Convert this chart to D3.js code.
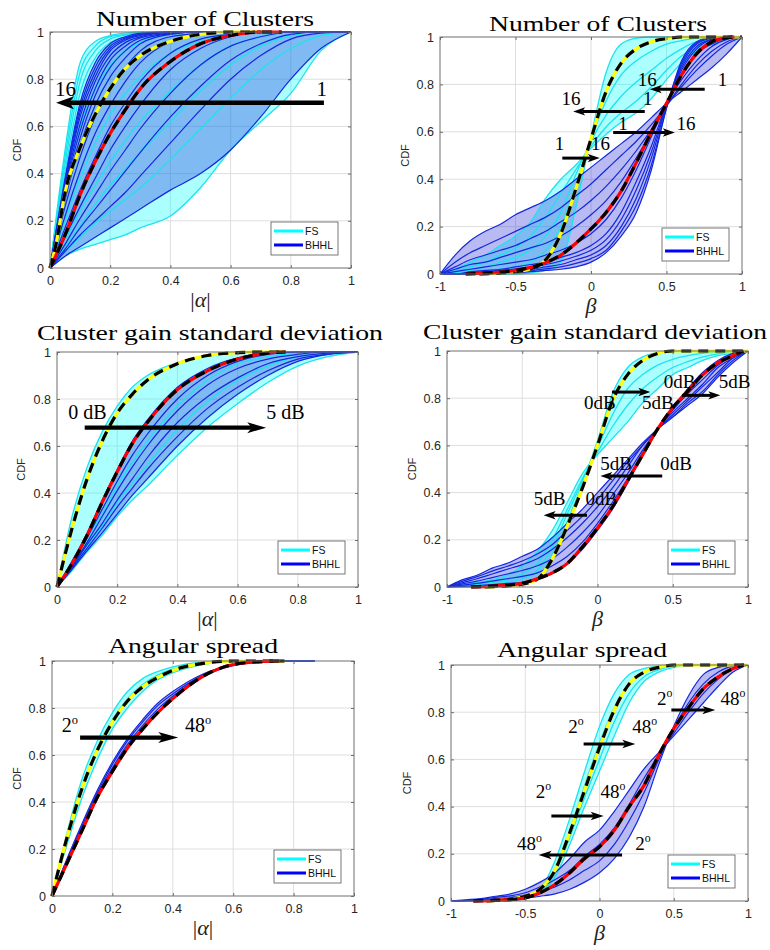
<!DOCTYPE html>
<html>
<head>
<meta charset="utf-8">
<script src="https://cdn.jsdelivr.net/npm/d3@7"></script>
<style>
  body { margin: 0; background: #fff; }
  svg { display: block; }
</style>
</head>
<body>
<svg id="fig" width="770" height="950"></svg>
<script>
// ---------------------------------------------------------------
// Axis ticks and titles
// ---------------------------------------------------------------
const alphaTicks = [0, 0.2, 0.4, 0.6, 0.8, 1];
const betaTicks = [-1, -0.5, 0, 0.5, 1];
const cdfTicks = [0, 0.2, 0.4, 0.6, 0.8, 1];
const titles = ["Number of Clusters", "Number of Clusters",
  "Cluster gain standard deviation", "Cluster gain standard deviation",
  "Angular spread", "Angular spread"];
const legendNames = ["FS", "BHHL"];

// shared β grid (−1 … 1, step 0.1)
const betaGrid = [-1, -0.9, -0.8, -0.7, -0.6, -0.5, -0.4, -0.3, -0.2, -0.1, 0,
  0.1, 0.2, 0.3, 0.4, 0.5, 0.6, 0.7, 0.8, 0.9, 1];

// ---------------------------------------------------------------
// Panel 1: |α|, number of clusters (rows: 16 clusters … 1 cluster)
// ---------------------------------------------------------------
const gridP1 = [0, 0.05, 0.1, 0.15, 0.2, 0.25, 0.3, 0.4, 0.5, 0.6, 0.7, 0.8, 0.9, 1];
const fsP1 = [
  [0, 0.50, 0.87, 0.96, 0.985, 0.995, 1, 1, 1, 1, 1, 1, 1, 1],
  [0, 0.47, 0.83, 0.94, 0.98, 0.99, 0.997, 1, 1, 1, 1, 1, 1, 1],
  [0, 0.44, 0.79, 0.92, 0.97, 0.987, 0.995, 1, 1, 1, 1, 1, 1, 1],
  [0, 0.41, 0.74, 0.89, 0.955, 0.98, 0.99, 0.998, 1, 1, 1, 1, 1, 1],
  [0, 0.33, 0.60, 0.76, 0.86, 0.92, 0.955, 0.99, 1, 1, 1, 1, 1, 1],
  [0, 0.20, 0.38, 0.53, 0.65, 0.74, 0.81, 0.91, 0.96, 0.99, 1, 1, 1, 1],
  [0, 0.12, 0.24, 0.35, 0.45, 0.54, 0.62, 0.75, 0.86, 0.94, 0.98, 1, 1, 1],
  [0, 0.09, 0.18, 0.27, 0.35, 0.42, 0.49, 0.62, 0.75, 0.86, 0.94, 0.985, 1, 1],
  [0, 0.07, 0.13, 0.19, 0.24, 0.29, 0.34, 0.46, 0.59, 0.72, 0.84, 0.93, 0.985, 1],
  [0, 0.05, 0.08, 0.10, 0.12, 0.14, 0.17, 0.22, 0.34, 0.50, 0.62, 0.74, 0.92, 1]
];
const bhP1 = [
  [0, 0.38, 0.70, 0.87, 0.95, 0.98, 0.995, 1, 1, 1, 1, 1, 1, 1],
  [0, 0.37, 0.68, 0.85, 0.94, 0.975, 0.99, 1, 1, 1, 1, 1, 1, 1],
  [0, 0.36, 0.66, 0.83, 0.93, 0.97, 0.99, 1, 1, 1, 1, 1, 1, 1],
  [0, 0.35, 0.64, 0.81, 0.92, 0.965, 0.985, 1, 1, 1, 1, 1, 1, 1],
  [0, 0.34, 0.61, 0.79, 0.90, 0.955, 0.98, 0.998, 1, 1, 1, 1, 1, 1],
  [0, 0.33, 0.58, 0.76, 0.88, 0.94, 0.975, 0.995, 1, 1, 1, 1, 1, 1],
  [0, 0.31, 0.55, 0.73, 0.85, 0.92, 0.965, 0.993, 1, 1, 1, 1, 1, 1],
  [0, 0.29, 0.52, 0.69, 0.81, 0.89, 0.95, 0.99, 1, 1, 1, 1, 1, 1],
  [0, 0.26, 0.47, 0.64, 0.76, 0.85, 0.92, 0.98, 0.995, 1, 1, 1, 1, 1],
  [0, 0.22, 0.41, 0.57, 0.69, 0.79, 0.87, 0.96, 0.99, 1, 1, 1, 1, 1],
  [0, 0.17, 0.33, 0.47, 0.60, 0.70, 0.79, 0.91, 0.97, 0.99, 1, 1, 1, 1],
  [0, 0.13, 0.26, 0.38, 0.50, 0.60, 0.69, 0.84, 0.93, 0.98, 1, 1, 1, 1],
  [0, 0.10, 0.21, 0.31, 0.41, 0.50, 0.59, 0.74, 0.86, 0.94, 0.98, 1, 1, 1],
  [0, 0.08, 0.17, 0.25, 0.33, 0.41, 0.49, 0.64, 0.77, 0.88, 0.95, 0.99, 1, 1],
  [0, 0.07, 0.14, 0.20, 0.26, 0.32, 0.39, 0.53, 0.67, 0.80, 0.90, 0.97, 0.995, 1],
  [0, 0.05, 0.09, 0.13, 0.17, 0.21, 0.25, 0.33, 0.40, 0.50, 0.64, 0.80, 0.93, 1]
];
const yellowP1 = [[0, 0], [0.02, 0.1], [0.05, 0.32], [0.1, 0.51], [0.15, 0.65], [0.2, 0.76],
  [0.25, 0.845], [0.3, 0.9], [0.4, 0.96], [0.5, 0.99], [0.6, 1], [0.7, 1]];
const redP1 = [[0, 0], [0.05, 0.14], [0.1, 0.31], [0.15, 0.45], [0.2, 0.57], [0.25, 0.67],
  [0.3, 0.76], [0.4, 0.875], [0.5, 0.95], [0.6, 0.985], [0.7, 1], [0.77, 1]];
const arrowsP1 = [[0.91, 0.7, 0.02, 0.7]];
const labelsP1 = [["16", 0.017, 0.73], ["1", 0.885, 0.73]];

// ---------------------------------------------------------------
// Panel 2: β, number of clusters
// ---------------------------------------------------------------
const fsP2 = [
  [0, 0, 0, 0, 0, 0, 0.005, 0.015, 0.05, 0.28, 0.58, 0.85, 0.97, 0.995, 1, 1, 1, 1, 1, 1, 1],
  [0, 0, 0.005, 0.01, 0.02, 0.03, 0.05, 0.10, 0.20, 0.38, 0.57, 0.73, 0.84, 0.90, 0.94, 0.97, 0.985, 0.995, 1, 1, 1],
  [0, 0.005, 0.015, 0.03, 0.05, 0.07, 0.10, 0.16, 0.26, 0.42, 0.56, 0.67, 0.75, 0.81, 0.86, 0.91, 0.95, 0.98, 0.99, 1, 1],
  [0, 0.01, 0.03, 0.05, 0.08, 0.11, 0.16, 0.24, 0.34, 0.44, 0.54, 0.62, 0.68, 0.73, 0.79, 0.86, 0.92, 0.96, 0.985, 0.995, 1],
  [0, 0.02, 0.05, 0.08, 0.12, 0.16, 0.22, 0.32, 0.40, 0.46, 0.53, 0.59, 0.64, 0.68, 0.74, 0.82, 0.89, 0.94, 0.97, 0.99, 1]
];
const bhP2 = [
  [0, 0, 0, 0, 0.002, 0.005, 0.01, 0.015, 0.02, 0.03, 0.05, 0.09, 0.16, 0.26, 0.44, 0.70, 0.90, 0.98, 1, 1, 1],
  [0, 0, 0, 0.003, 0.006, 0.01, 0.015, 0.022, 0.03, 0.045, 0.065, 0.10, 0.18, 0.29, 0.46, 0.70, 0.89, 0.975, 0.998, 1, 1],
  [0, 0, 0, 0.005, 0.01, 0.015, 0.02, 0.03, 0.04, 0.06, 0.08, 0.12, 0.20, 0.32, 0.49, 0.71, 0.88, 0.97, 0.995, 1, 1],
  [0, 0, 0.005, 0.01, 0.015, 0.022, 0.03, 0.04, 0.055, 0.075, 0.10, 0.145, 0.23, 0.355, 0.515, 0.715, 0.87, 0.96, 0.99, 1, 1],
  [0, 0, 0.01, 0.015, 0.02, 0.03, 0.04, 0.05, 0.07, 0.09, 0.12, 0.17, 0.26, 0.39, 0.54, 0.72, 0.86, 0.95, 0.99, 1, 1],
  [0, 0.01, 0.02, 0.03, 0.04, 0.05, 0.06, 0.08, 0.10, 0.13, 0.17, 0.23, 0.32, 0.44, 0.58, 0.72, 0.84, 0.93, 0.97, 0.995, 1],
  [0, 0.02, 0.04, 0.05, 0.07, 0.09, 0.11, 0.13, 0.16, 0.20, 0.25, 0.31, 0.39, 0.49, 0.60, 0.72, 0.82, 0.90, 0.96, 0.99, 1],
  [0, 0.03, 0.06, 0.08, 0.10, 0.12, 0.15, 0.18, 0.22, 0.26, 0.31, 0.37, 0.44, 0.52, 0.61, 0.71, 0.80, 0.88, 0.94, 0.98, 1],
  [0, 0.05, 0.09, 0.12, 0.15, 0.18, 0.21, 0.24, 0.28, 0.33, 0.38, 0.44, 0.50, 0.56, 0.63, 0.71, 0.79, 0.86, 0.92, 0.97, 1],
  [0, 0.08, 0.14, 0.18, 0.21, 0.25, 0.28, 0.31, 0.35, 0.40, 0.45, 0.50, 0.55, 0.60, 0.66, 0.72, 0.77, 0.82, 0.87, 0.93, 1]
];
const yellowP2 = [[-0.74, 0], [-0.6, 0.004], [-0.5, 0.01], [-0.4, 0.022], [-0.3, 0.06], [-0.2, 0.17],
  [-0.1, 0.36], [0, 0.57], [0.1, 0.77], [0.2, 0.89], [0.3, 0.95], [0.4, 0.98], [0.5, 0.993], [0.6, 1], [1, 1]];
const redP2 = [[-0.83, 0], [-0.7, 0.004], [-0.6, 0.008], [-0.5, 0.015], [-0.4, 0.028], [-0.3, 0.048],
  [-0.2, 0.08], [-0.1, 0.13], [0, 0.19], [0.1, 0.26], [0.2, 0.35], [0.3, 0.47], [0.4, 0.6], [0.5, 0.72],
  [0.6, 0.84], [0.7, 0.93], [0.8, 0.98], [0.9, 0.997], [0.95, 1]];
const arrowsP2 = [[0.753, 0.78, 0.389, 0.78], [0.356, 0.686, -0.118, 0.686],
  [0.147, 0.597, 0.555, 0.597], [-0.19, 0.489, 0.058, 0.489]];
const labelsP2 = [["16", 0.31, 0.795], ["1", 0.84, 0.795], ["16", -0.195, 0.714], ["1", 0.345, 0.714],
  ["1", 0.18, 0.608], ["16", 0.566, 0.608], ["1", -0.24, 0.524], ["16", 0.0, 0.524]];

// ---------------------------------------------------------------
// Panel 3: |α|, cluster gain standard deviation (rows: 0 dB … 5 dB)
// ---------------------------------------------------------------
const gridP3 = [0, 0.05, 0.1, 0.15, 0.2, 0.25, 0.3, 0.4, 0.5, 0.6, 0.7, 0.8, 0.9, 1];
const fsP3 = [
  [0, 0.30, 0.51, 0.66, 0.77, 0.85, 0.90, 0.955, 0.985, 0.997, 1, 1, 1, 1],
  [0, 0.10, 0.20, 0.31, 0.43, 0.53, 0.62, 0.77, 0.88, 0.95, 0.98, 0.995, 1, 1],
  [0, 0.085, 0.17, 0.26, 0.36, 0.44, 0.52, 0.67, 0.79, 0.88, 0.94, 0.98, 0.995, 1],
  [0, 0.07, 0.15, 0.22, 0.30, 0.37, 0.43, 0.56, 0.68, 0.78, 0.87, 0.94, 0.98, 1]
];
const bhP3 = [
  [0, 0.11, 0.23, 0.37, 0.50, 0.62, 0.71, 0.85, 0.93, 0.975, 0.995, 1, 1, 1],
  [0, 0.10, 0.21, 0.33, 0.45, 0.56, 0.65, 0.80, 0.90, 0.96, 0.99, 1, 1, 1],
  [0, 0.09, 0.19, 0.30, 0.41, 0.51, 0.60, 0.75, 0.86, 0.93, 0.97, 0.99, 1, 1],
  [0, 0.085, 0.18, 0.27, 0.37, 0.46, 0.55, 0.70, 0.81, 0.89, 0.95, 0.98, 0.995, 1],
  [0, 0.08, 0.165, 0.25, 0.34, 0.42, 0.50, 0.64, 0.76, 0.85, 0.92, 0.97, 0.99, 1],
  [0, 0.075, 0.155, 0.23, 0.31, 0.39, 0.46, 0.60, 0.72, 0.82, 0.90, 0.96, 0.99, 1]
];
const yellowP3 = [[0, 0], [0.05, 0.25], [0.1, 0.46], [0.15, 0.62], [0.2, 0.74], [0.25, 0.82],
  [0.3, 0.88], [0.4, 0.95], [0.5, 0.985], [0.6, 0.997], [0.7, 1], [0.76, 1]];
const redP3 = [[0, 0], [0.05, 0.1], [0.1, 0.22], [0.15, 0.36], [0.2, 0.49], [0.25, 0.61],
  [0.3, 0.7], [0.4, 0.84], [0.5, 0.92], [0.6, 0.97], [0.7, 0.995], [0.76, 1]];
const arrowsP3 = [[0.092, 0.678, 0.695, 0.678]];
const labelsP3 = [["0 dB", 0.037, 0.716], ["5 dB", 0.695, 0.716]];

// ---------------------------------------------------------------
// Panel 4: β, cluster gain standard deviation
// ---------------------------------------------------------------
const fsP4 = [
  [0, 0, 0, 0.002, 0.005, 0.012, 0.035, 0.14, 0.28, 0.44, 0.62, 0.82, 0.93, 0.975, 0.993, 1, 1, 1, 1, 1, 1],
  [0, 0.004, 0.008, 0.013, 0.02, 0.035, 0.07, 0.17, 0.31, 0.45, 0.59, 0.73, 0.84, 0.90, 0.94, 0.965, 0.98, 0.99, 0.996, 1, 1],
  [0, 0.007, 0.013, 0.02, 0.03, 0.055, 0.10, 0.20, 0.33, 0.46, 0.57, 0.68, 0.77, 0.84, 0.89, 0.93, 0.955, 0.975, 0.988, 0.996, 1],
  [0, 0.01, 0.02, 0.03, 0.05, 0.09, 0.15, 0.24, 0.36, 0.48, 0.56, 0.63, 0.70, 0.78, 0.84, 0.90, 0.93, 0.96, 0.98, 0.99, 1]
];
const bhP4 = [
  [0, 0.003, 0.006, 0.01, 0.015, 0.02, 0.035, 0.06, 0.10, 0.16, 0.24, 0.33, 0.44, 0.56, 0.67, 0.76, 0.84, 0.91, 0.96, 0.99, 1],
  [0, 0.008, 0.015, 0.025, 0.035, 0.045, 0.06, 0.09, 0.13, 0.19, 0.27, 0.36, 0.46, 0.57, 0.67, 0.75, 0.82, 0.88, 0.94, 0.98, 1],
  [0, 0.013, 0.025, 0.04, 0.055, 0.07, 0.09, 0.12, 0.17, 0.23, 0.30, 0.39, 0.48, 0.58, 0.67, 0.74, 0.80, 0.86, 0.93, 0.97, 1],
  [0, 0.018, 0.035, 0.055, 0.075, 0.095, 0.12, 0.16, 0.21, 0.27, 0.34, 0.42, 0.51, 0.60, 0.67, 0.73, 0.79, 0.85, 0.91, 0.97, 1],
  [0, 0.024, 0.044, 0.067, 0.088, 0.11, 0.14, 0.18, 0.24, 0.30, 0.37, 0.45, 0.53, 0.60, 0.67, 0.72, 0.78, 0.83, 0.90, 0.96, 1],
  [0, 0.03, 0.05, 0.08, 0.10, 0.13, 0.16, 0.21, 0.27, 0.33, 0.40, 0.47, 0.54, 0.61, 0.67, 0.72, 0.77, 0.82, 0.89, 0.95, 1]
];
const yellowP4 = [[-0.75, 0], [-0.6, 0.005], [-0.5, 0.012], [-0.4, 0.033], [-0.3, 0.12], [-0.2, 0.26],
  [-0.1, 0.42], [0, 0.6], [0.1, 0.79], [0.2, 0.9], [0.3, 0.96], [0.4, 0.99], [0.5, 1], [1, 1]];
const redP4 = [[-0.84, 0], [-0.7, 0.004], [-0.6, 0.008], [-0.5, 0.016], [-0.4, 0.035], [-0.3, 0.06],
  [-0.2, 0.1], [-0.1, 0.17], [0, 0.25], [0.1, 0.34], [0.2, 0.45], [0.3, 0.56], [0.4, 0.67], [0.5, 0.76],
  [0.6, 0.83], [0.7, 0.9], [0.8, 0.95], [0.9, 0.98], [0.97, 1]];
const arrowsP4 = [[0.096, 0.826, 0.351, 0.826], [0.561, 0.812, 0.816, 0.812],
  [0.43, 0.47, 0.019, 0.47], [-0.07, 0.304, -0.358, 0.304]];
const labelsP4 = [["0dB", -0.09, 0.756], ["5dB", 0.296, 0.756], ["0dB", 0.44, 0.845], ["5dB", 0.805, 0.845],
  ["5dB", 0.019, 0.497], ["0dB", 0.417, 0.497], ["5dB", -0.424, 0.346], ["0dB", -0.08, 0.346]];

// ---------------------------------------------------------------
// Panel 5: |α|, angular spread (rows: 2°, 16°, 48°)
// ---------------------------------------------------------------
const gridP5 = [0, 0.05, 0.1, 0.15, 0.2, 0.25, 0.3, 0.35, 0.4, 0.5, 0.6, 0.7, 0.8, 0.87];
const fsP5 = [
  [0, 0.27, 0.50, 0.66, 0.78, 0.87, 0.925, 0.955, 0.975, 0.995, 1, 1, 1, 1],
  [0, 0.26, 0.47, 0.63, 0.75, 0.84, 0.90, 0.94, 0.965, 0.99, 1, 1, 1, 1],
  [0, 0.22, 0.42, 0.58, 0.71, 0.80, 0.87, 0.92, 0.95, 0.985, 0.998, 1, 1, 1]
];
const bhP5 = [
  [0, 0.16, 0.31, 0.45, 0.57, 0.67, 0.75, 0.82, 0.87, 0.945, 0.985, 1, 1, 1],
  [0, 0.155, 0.30, 0.44, 0.56, 0.66, 0.74, 0.81, 0.86, 0.94, 0.983, 0.998, 1, 1],
  [0, 0.145, 0.29, 0.43, 0.545, 0.645, 0.725, 0.795, 0.85, 0.935, 0.98, 0.997, 1, 1]
];
const yellowP5 = [[0, 0], [0.05, 0.25], [0.1, 0.46], [0.15, 0.62], [0.2, 0.74], [0.25, 0.83],
  [0.3, 0.89], [0.35, 0.93], [0.4, 0.96], [0.5, 0.99], [0.6, 1], [0.77, 1]];
const redP5 = [[0, 0], [0.05, 0.14], [0.1, 0.28], [0.15, 0.42], [0.2, 0.53], [0.25, 0.63],
  [0.3, 0.71], [0.35, 0.78], [0.4, 0.84], [0.5, 0.935], [0.6, 0.985], [0.7, 0.998], [0.755, 1]];
const arrowsP5 = [[0.093, 0.674, 0.418, 0.674]];
const labelsP5 = [["2°", 0.032, 0.698], ["48°", 0.44, 0.698]];

// ---------------------------------------------------------------
// Panel 6: β, angular spread (rows: 2°, 16°, 32°, 48°)
// ---------------------------------------------------------------
const fsP6 = [
  [0, 0, 0, 0, 0.002, 0.015, 0.05, 0.17, 0.35, 0.55, 0.74, 0.88, 0.96, 0.985, 0.995, 1, 1, 1, 1, 1, 1],
  [0, 0, 0, 0, 0.002, 0.012, 0.04, 0.14, 0.30, 0.49, 0.67, 0.82, 0.92, 0.97, 0.99, 1, 1, 1, 1, 1, 1],
  [0, 0, 0, 0, 0.002, 0.01, 0.035, 0.12, 0.27, 0.44, 0.60, 0.76, 0.88, 0.95, 0.98, 0.995, 1, 1, 1, 1, 1],
  [0, 0, 0, 0, 0.002, 0.01, 0.03, 0.10, 0.24, 0.40, 0.55, 0.70, 0.84, 0.93, 0.97, 0.99, 1, 1, 1, 1, 1]
];
const bhP6 = [
  [0, 0, 0.002, 0.005, 0.008, 0.012, 0.02, 0.03, 0.05, 0.08, 0.12, 0.18, 0.27, 0.40, 0.58, 0.74, 0.87, 0.96, 0.99, 1, 1],
  [0, 0.002, 0.005, 0.01, 0.015, 0.025, 0.04, 0.06, 0.09, 0.13, 0.17, 0.24, 0.34, 0.46, 0.60, 0.73, 0.84, 0.92, 0.97, 0.995, 1],
  [0, 0.003, 0.008, 0.015, 0.022, 0.035, 0.06, 0.09, 0.13, 0.19, 0.24, 0.31, 0.41, 0.52, 0.62, 0.71, 0.80, 0.88, 0.94, 0.985, 1],
  [0, 0.005, 0.01, 0.02, 0.03, 0.05, 0.08, 0.12, 0.18, 0.25, 0.30, 0.38, 0.47, 0.56, 0.63, 0.70, 0.77, 0.84, 0.91, 0.97, 1]
];
const yellowP6 = [[-0.76, 0], [-0.7, 0.002], [-0.6, 0.008], [-0.5, 0.02], [-0.4, 0.05], [-0.3, 0.13],
  [-0.2, 0.29], [-0.1, 0.47], [0, 0.65], [0.1, 0.81], [0.2, 0.92], [0.3, 0.97], [0.4, 0.99], [0.5, 1], [1, 1]];
const redP6 = [[-0.85, 0], [-0.7, 0.003], [-0.6, 0.006], [-0.5, 0.013], [-0.4, 0.035], [-0.3, 0.07],
  [-0.2, 0.12], [-0.1, 0.18], [0, 0.23], [0.1, 0.3], [0.2, 0.4], [0.3, 0.49], [0.4, 0.62], [0.5, 0.73],
  [0.6, 0.82], [0.7, 0.9], [0.8, 0.95], [0.9, 0.985], [0.97, 1]];
const arrowsP6 = [[0.484, 0.809, 0.78, 0.809], [-0.107, 0.665, 0.241, 0.665],
  [-0.324, 0.36, 0.028, 0.36], [0.152, 0.195, -0.41, 0.195]];
const labelsP6 = [["2°", 0.387, 0.83], ["48°", 0.814, 0.83], ["2°", -0.21, 0.71], ["48°", 0.22, 0.71],
  ["2°", -0.43, 0.435], ["48°", 0.006, 0.435], ["48°", -0.556, 0.216], ["2°", 0.24, 0.216]];

// ---------------------------------------------------------------
// Layout of the six axes
// ---------------------------------------------------------------
const SERIF = "'Liberation Serif','Times New Roman',serif";
const SANS = "'Liberation Sans',Arial,Helvetica,sans-serif";

const panels = [
  { box: [50, 32, 351, 268], xDomain: [0, 1], xTicks: alphaTicks, xGrid: gridP1, fs: fsP1, bh: bhP1,
    yellow: yellowP1, red: redP1, arrows: arrowsP1, labels: labelsP1, title: titles[0],
    titleX: 205, titleY: 26, titleW: 218, xlab: "alpha", cdfX: 17,
    arrowW: 4.6, headLen: 18, headHalf: 6.5, labelSize: 21 },
  { box: [440, 37, 742, 274], xDomain: [-1, 1], xTicks: betaTicks, xGrid: betaGrid, fs: fsP2, bh: bhP2,
    yellow: yellowP2, red: redP2, arrows: arrowsP2, labels: labelsP2, title: titles[1],
    titleX: 598, titleY: 31, titleW: 218, xlab: "beta", cdfX: 405,
    arrowW: 3, headLen: 12, headHalf: 4.2, labelSize: 19 },
  { box: [57, 352, 358, 587], xDomain: [0, 1], xTicks: alphaTicks, xGrid: gridP3, fs: fsP3, bh: bhP3,
    yellow: yellowP3, red: redP3, arrows: arrowsP3, labels: labelsP3, title: titles[2],
    titleX: 210, titleY: 340, titleW: 346, xlab: "alpha", cdfX: 21,
    arrowW: 4.3, headLen: 19, headHalf: 5.5, labelSize: 20 },
  { box: [447, 351, 748, 587], xDomain: [-1, 1], xTicks: betaTicks, xGrid: betaGrid, fs: fsP4, bh: bhP4,
    yellow: yellowP4, red: redP4, arrows: arrowsP4, labels: labelsP4, title: titles[3],
    titleX: 595, titleY: 339, titleW: 344, xlab: "beta", cdfX: 412,
    arrowW: 3, headLen: 12, headHalf: 4.2, labelSize: 19 },
  { box: [52, 661, 354, 896], xDomain: [0, 1], xTicks: alphaTicks, xGrid: gridP5, fs: fsP5, bh: bhP5,
    yellow: yellowP5, red: redP5, arrows: arrowsP5, labels: labelsP5, title: titles[4],
    titleX: 193, titleY: 653, titleW: 170, xlab: "alpha", cdfX: 17,
    arrowW: 4.3, headLen: 20, headHalf: 5.5, labelSize: 20 },
  { box: [451, 665, 748, 901], xDomain: [-1, 1], xTicks: betaTicks, xGrid: betaGrid, fs: fsP6, bh: bhP6,
    yellow: yellowP6, red: redP6, arrows: arrowsP6, labels: labelsP6, title: titles[5],
    titleX: 582, titleY: 657, titleW: 170, xlab: "beta", cdfX: 407,
    arrowW: 3, headLen: 13, headHalf: 4.2, labelSize: 19 }
];

const COL = {
  fsLine: "#1be3ef", bhLine: "#1228e0",
  fsFill: "#00ffff", bhFill: "#1a1ad6",
  grid: "#dedede", box: "#6e6e6e", tick: "#262626"
};

const svg = d3.select("#fig");

function fmtTick(d) {
  return String(d);
}

function addLabel(g, text, px, py, size) {
  const t = g.append("text").attr("x", px).attr("y", py)
    .attr("font-family", SERIF).attr("font-size", size).attr("fill", "#000");
  if (text.endsWith("°")) {
    t.append("tspan").text(text.slice(0, -1));
    t.append("tspan").attr("dy", -size * 0.42).attr("font-size", size * 0.62).text("o");
  } else {
    t.text(text);
  }
}

function drawArrow(g, x1, y1, x2, y2, w, hl, hh) {
  const dx = x2 - x1, dy = y2 - y1, L = Math.hypot(dx, dy);
  const ux = dx / L, uy = dy / L;
  const bx = x2 - ux * hl, by = y2 - uy * hl;
  const nx = x2 - ux * hl * 0.75, ny = y2 - uy * hl * 0.75;
  g.append("line").attr("x1", x1).attr("y1", y1).attr("x2", nx).attr("y2", ny)
    .attr("stroke", "#000").attr("stroke-width", w);
  g.append("path")
    .attr("d", `M${x2},${y2} L${bx - uy * hh},${by + ux * hh} L${nx},${ny} L${bx + uy * hh},${by - ux * hh} Z`)
    .attr("fill", "#000");
}

panels.forEach((p, k) => {
  const [L, T, R, B] = p.box;
  const x = d3.scaleLinear().domain(p.xDomain).range([L, R]);
  const y = d3.scaleLinear().domain([0, 1]).range([B, T]);
  const g = svg.append("g");

  // grid
  g.append("g").selectAll("line").data(p.xTicks.slice(1, -1)).join("line")
    .attr("x1", d => x(d)).attr("x2", d => x(d)).attr("y1", T).attr("y2", B)
    .attr("stroke", COL.grid).attr("stroke-width", 1);
  g.append("g").selectAll("line").data(cdfTicks.slice(1, -1)).join("line")
    .attr("y1", d => y(d)).attr("y2", d => y(d)).attr("x1", L).attr("x2", R)
    .attr("stroke", COL.grid).attr("stroke-width", 1);

  const clipId = "clip" + k;
  svg.append("clipPath").attr("id", clipId).append("rect")
    .attr("x", L - 2).attr("y", T - 3).attr("width", R - L + 4).attr("height", B - T + 7);
  const plot = g.append("g").attr("clip-path", `url(#${clipId})`);

  const area = d3.area()
    .x(d => x(d[0])).y0(d => y(d[1])).y1(d => y(d[2]))
    .curve(d3.curveMonotoneX);
  const line = d3.line().x(d => x(d[0])).y(d => y(d[1])).curve(d3.curveMonotoneX);
  const rowPts = row => p.xGrid.map((gx, i) => [gx, row[i]]);

  // shaded envelopes between the extreme curves of each family
  const fsFirst = p.fs[0], fsLast = p.fs[p.fs.length - 1];
  plot.append("path")
    .attr("d", area(p.xGrid.map((gx, i) => [gx, fsFirst[i], fsLast[i]])))
    .attr("fill", COL.fsFill).attr("fill-opacity", 0.33);
  const bhFirst = p.bh[0], bhLast = p.bh[p.bh.length - 1];
  plot.append("path")
    .attr("d", area(p.xGrid.map((gx, i) => [gx, bhFirst[i], bhLast[i]])))
    .attr("fill", COL.bhFill).attr("fill-opacity", 0.3);

  // individual CDF curves
  plot.append("g").selectAll("path").data(p.fs).join("path")
    .attr("d", d => line(rowPts(d)))
    .attr("fill", "none").attr("stroke", COL.fsLine).attr("stroke-width", 1.3);
  plot.append("g").selectAll("path").data(p.bh).join("path")
    .attr("d", d => line(rowPts(d)))
    .attr("fill", "none").attr("stroke", COL.bhLine).attr("stroke-width", 1.2);

  // analytic curves: coloured base with black dashes on top
  [[p.yellow, "#ffff00"], [p.red, "#ff0000"]].forEach(([pts, c]) => {
    plot.append("path").attr("d", line(pts)).attr("fill", "none")
      .attr("stroke", c).attr("stroke-width", 3.2);
    plot.append("path").attr("d", line(pts)).attr("fill", "none")
      .attr("stroke", "#000").attr("stroke-width", 3.2).attr("stroke-dasharray", "10,7");
  });

  // axes box
  g.append("rect").attr("x", L).attr("y", T).attr("width", R - L).attr("height", B - T)
    .attr("fill", "none").attr("stroke", COL.box).attr("stroke-width", 1);

  // ticks and tick labels
  const axB = g.append("g").attr("transform", `translate(0,${B})`)
    .call(d3.axisBottom(x).tickValues(p.xTicks).tickFormat(fmtTick).tickSizeInner(-3).tickSizeOuter(0).tickPadding(8));
  const axL = g.append("g").attr("transform", `translate(${L},0)`)
    .call(d3.axisLeft(y).tickValues(cdfTicks).tickFormat(fmtTick).tickSizeInner(-3).tickSizeOuter(0).tickPadding(6));
  const axT = g.append("g").attr("transform", `translate(0,${T})`)
    .call(d3.axisTop(x).tickValues(p.xTicks).tickFormat("").tickSizeInner(-3).tickSizeOuter(0));
  const axR = g.append("g").attr("transform", `translate(${R},0)`)
    .call(d3.axisRight(y).tickValues(cdfTicks).tickFormat("").tickSizeInner(-3).tickSizeOuter(0));
  [axB, axL, axT, axR].forEach(a => {
    a.select(".domain").remove();
    a.selectAll("line").attr("stroke", COL.box);
    a.selectAll("text").attr("font-family", SANS).attr("font-size", 12.5).attr("fill", COL.tick);
  });

  // arrows and their labels
  p.arrows.forEach(a => drawArrow(g, x(a[0]), y(a[1]), x(a[2]), y(a[3]), p.arrowW, p.headLen, p.headHalf));
  p.labels.forEach(l => addLabel(g, l[0], x(l[1]), y(l[2]), p.labelSize));

  // legend
  const lw = 67, lh = 33;
  const lx = R - 13 - lw, ly = B - 13 - lh;
  const leg = g.append("g");
  leg.append("rect").attr("x", lx).attr("y", ly).attr("width", lw).attr("height", lh)
    .attr("fill", "#fff").attr("stroke", "#555").attr("stroke-width", 0.8);
  [[COL.fsFill, legendNames[0]], ["#0000ff", legendNames[1]]].forEach(([c, name], i) => {
    const yy = ly + 9 + i * 14;
    leg.append("line").attr("x1", lx + 3).attr("x2", lx + 32).attr("y1", yy).attr("y2", yy)
      .attr("stroke", c).attr("stroke-width", 3);
    leg.append("text").attr("x", lx + 34).attr("y", yy + 4).attr("font-family", SANS)
      .attr("font-size", 10.5).attr("fill", "#111").text(name);
  });

  // title
  svg.append("text").attr("x", p.titleX).attr("y", p.titleY).attr("text-anchor", "middle")
    .attr("font-family", SERIF).attr("font-size", 22).attr("fill", "#000")
    .attr("textLength", p.titleW).attr("lengthAdjust", "spacingAndGlyphs").text(p.title);

  // axis labels
  svg.append("text").attr("transform", `translate(${p.cdfX},${(T + B) / 2}) rotate(-90)`)
    .attr("text-anchor", "middle").attr("dy", "0.35em").attr("font-family", SANS)
    .attr("font-size", 11).attr("fill", COL.tick).text("CDF");
  const xl = svg.append("text").attr("x", (L + R) / 2).attr("y", B + 39).attr("text-anchor", "middle")
    .attr("font-family", SERIF).attr("font-size", 22).attr("fill", "#222");
  if (p.xlab === "alpha") {
    xl.append("tspan").text("|");
    xl.append("tspan").attr("font-style", "italic").text("α");
    xl.append("tspan").text("|");
  } else {
    xl.append("tspan").attr("font-style", "italic").text("β");
  }
});
</script>
</body>
</html>
